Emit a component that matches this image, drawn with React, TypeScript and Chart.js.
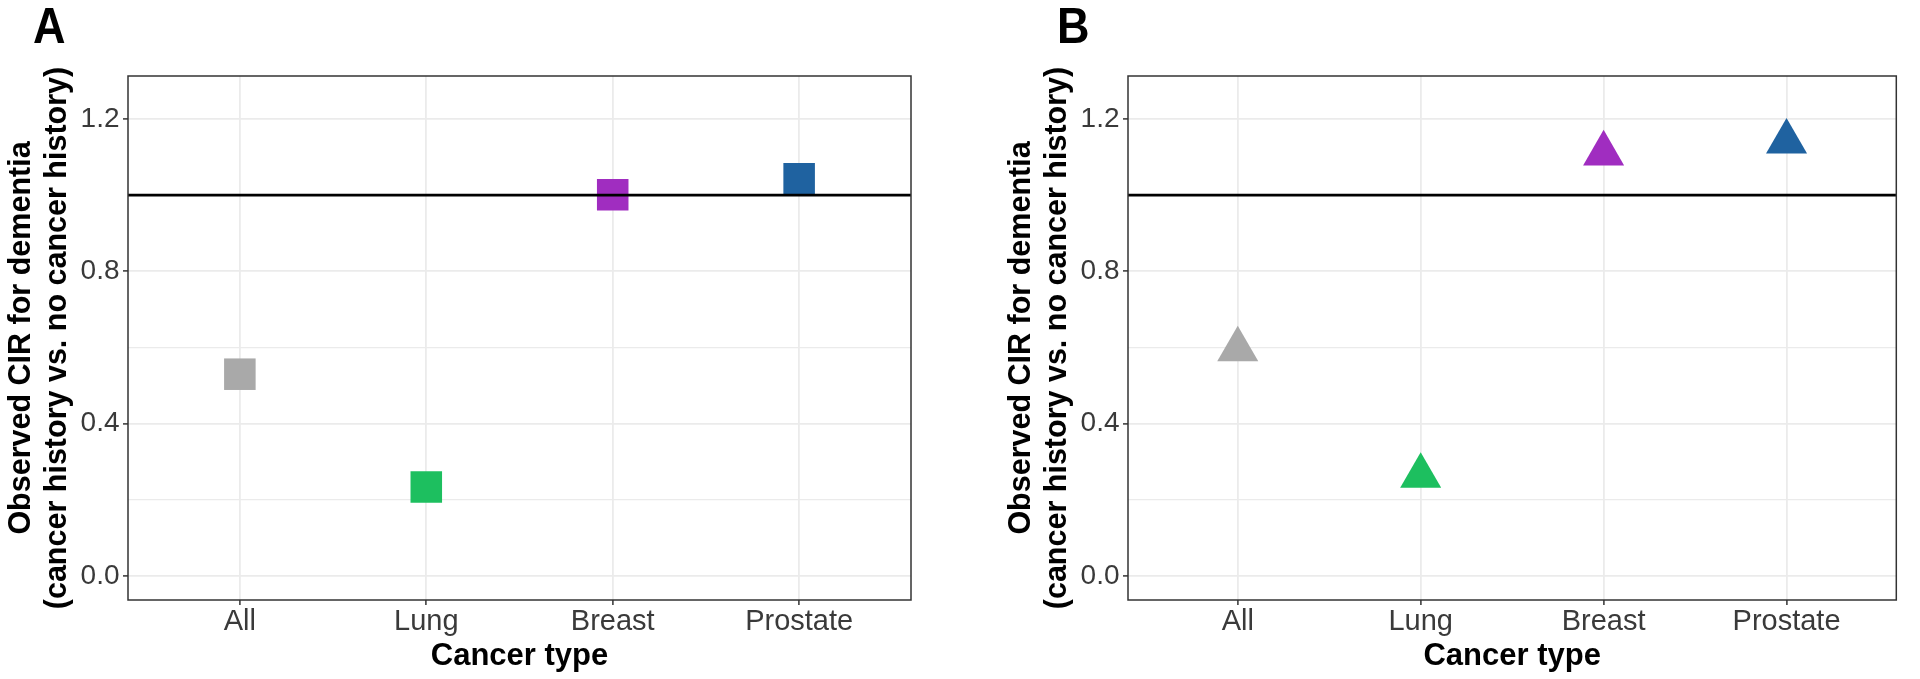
import React, { useEffect, useRef } from "react";
import { Chart, registerables } from "chart.js";

Chart.register(...registerables);

const CATEGORIES = ["All", "Lung", "Breast", "Prostate"];
const CIR_A = [0.53, 0.234, 1.001, 1.043];
const CIR_B = [0.595, 0.263, 1.109, 1.14];
const POINT_COLORS = ["#A9A9A9", "#1DBF5F", "#A02DC0", "#1F62A0"];
const Y_MAJOR = [0, 0.4, 0.8, 1.2];
const Y_MINOR = [0.2, 0.6, 1.0];
const REF_LINE = 1;
const Y_MIN = -0.0625;
const Y_MAX = 1.3125;
const X_MIN = -0.6;
const X_MAX = 3.6;
const Y_TITLE = ["Observed CIR for dementia", "(cancer history vs. no cancer history)"];
const X_TITLE = "Cancer type";

const FONT = "'Liberation Sans', Arial, sans-serif";
const TICK_COLOR = "#3A3A3A";

const decorPlugin = {
  id: "panelDecor",
  afterDatasetsDraw(chart: any) {
    const { ctx, chartArea, scales } = chart;
    const { left, top, right, bottom } = chartArea;
    const yy = scales.y.getPixelForValue(REF_LINE);
    ctx.save();
    ctx.strokeStyle = "#000000";
    ctx.lineWidth = 2.6;
    ctx.beginPath();
    ctx.moveTo(left, yy);
    ctx.lineTo(right, yy);
    ctx.stroke();
    ctx.strokeStyle = "#333333";
    ctx.lineWidth = 1.5;
    ctx.strokeRect(left, top, right - left, bottom - top);
    ctx.restore();
  },
};

const isMajor = (v: number) => Y_MAJOR.some((m) => Math.abs(m - v) < 1e-9);

function Panel({ values, pointStyle, radius, width, padRight }: any) {
  const ref = useRef<HTMLCanvasElement>(null);
  useEffect(() => {
    const canvas = ref.current!;
    const chart = new Chart(canvas, {
      type: "scatter",
      data: {
        datasets: [
          {
            data: values.map((v: number, i: number) => ({ x: i, y: v })),
            pointStyle,
            pointRadius: radius,
            pointHoverRadius: radius,
            pointBackgroundColor: POINT_COLORS,
            pointBorderColor: POINT_COLORS,
            pointBorderWidth: 0,
          },
        ],
      },
      options: {
        animation: false,
        responsive: false,
        events: [],
        layout: { padding: { left: 0, top: 76, right: padRight, bottom: 0 } },
        plugins: { legend: { display: false }, tooltip: { enabled: false } },
        scales: {
          x: {
            type: "linear",
            min: X_MIN,
            max: X_MAX,
            afterBuildTicks: (s: any) => {
              s.ticks = CATEGORIES.map((_, i) => ({ value: i }));
            },
            afterFit: (s: any) => {
              s.height = 79;
            },
            ticks: {
              callback: (v: any) => CATEGORIES[v] ?? "",
              font: { family: FONT, size: 29 },
              color: TICK_COLOR,
              padding: 0,
              maxRotation: 0,
              autoSkip: false,
            },
            grid: {
              color: "#EBEBEB",
              lineWidth: 1.8,
              tickColor: "#333333",
              tickLength: 5,
              tickWidth: 1.5,
            },
            border: { display: false },
            title: {
              display: true,
              text: X_TITLE,
              color: "#000000",
              font: { family: FONT, size: 31, weight: "bold" },
              padding: { top: 0, bottom: 4 },
            },
          },
          y: {
            type: "linear",
            min: Y_MIN,
            max: Y_MAX,
            afterBuildTicks: (s: any) => {
              s.ticks = [...Y_MAJOR, ...Y_MINOR]
                .sort((a, b) => a - b)
                .map((v) => ({ value: v }));
            },
            afterFit: (s: any) => {
              s.width = 128;
            },
            ticks: {
              callback: (v: any) => (isMajor(Number(v)) ? Number(v).toFixed(1) : ""),
              font: { family: FONT, size: 28 },
              color: TICK_COLOR,
              padding: 3.5,
              autoSkip: false,
            },
            grid: {
              color: "#EBEBEB",
              lineWidth: (c: any) => (isMajor(c.tick?.value) ? 1.8 : 1.2),
              tickColor: (c: any) => (isMajor(c.tick?.value) ? "#333333" : "rgba(0,0,0,0)"),
              tickLength: 5,
              tickWidth: 1.5,
            },
            border: { display: false },
            title: {
              display: true,
              text: Y_TITLE,
              color: "#000000",
              font: { family: FONT, size: 30.5, weight: "bold", lineHeight: 1.2 },
              padding: { top: 3, bottom: 0 },
            },
          },
        },
      },
      plugins: [decorPlugin],
    } as any);
    return () => chart.destroy();
  }, []);
  return <canvas ref={ref} width={width} height={679} style={{ display: "block" }} />;
}

const letterStyle: React.CSSProperties = {
  position: "absolute",
  top: 1,
  fontFamily: FONT,
  fontWeight: "bold",
  fontSize: 50,
  lineHeight: "50px",
  color: "#000",
  transform: "scaleX(0.9)",
  transformOrigin: "left top",
};

export default function App() {
  return (
    <div
      style={{
        position: "absolute",
        left: 0,
        top: 0,
        width: 1920,
        height: 679,
        background: "#ffffff",
        overflow: "hidden",
      }}
    >
      <div style={{ position: "absolute", left: 0, top: 0 }}>
        <Panel values={CIR_A} pointStyle="rect" radius={22.3} width={1000} padRight={89} />
      </div>
      <div style={{ position: "absolute", left: 1000, top: 0 }}>
        <Panel values={CIR_B} pointStyle="triangle" radius={23.7} width={920} padRight={9} />
      </div>
      <div style={{ ...letterStyle, left: 33 }}>A</div>
      <div style={{ ...letterStyle, left: 1057 }}>B</div>
    </div>
  );
}
